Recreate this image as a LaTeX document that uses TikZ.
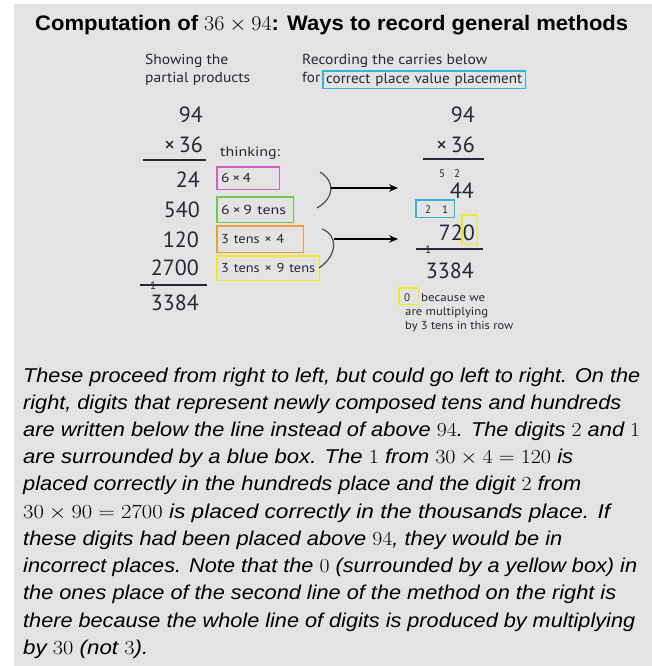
\RequirePackage{fix-cm}
\documentclass[tikz,border=0pt]{standalone}
\usepackage[no-math]{fontspec}
\setmainfont{Liberation Sans}
\newfontfamily\lab{PT Sans}
\usepackage{graphicx}
\usetikzlibrary{arrows.meta}
\definecolor{bgc}{HTML}{E3E3E3}
\definecolor{txt}{HTML}{262636}
\definecolor{cyanc}{HTML}{30B4D8}
\definecolor{pinkc}{HTML}{DA5EC2}
\definecolor{greenc}{HTML}{6CC848}
\definecolor{orangec}{HTML}{F29A40}
\definecolor{yelc}{HTML}{F2EA20}
\definecolor{arcc}{HTML}{4A4A4A}
\newcommand\fw[2]{\resizebox{#1pt}{\height}{#2}}
\begin{document}
\begin{tikzpicture}[x=1pt,y=-1pt,
  dig/.style={font=\lab\fontsize{22}{22}\selectfont, inner sep=0pt, text=txt, anchor=base east},
  hdr/.style={font=\lab\fontsize{14.5}{14.5}\selectfont, inner sep=0pt, text=txt, anchor=base west},
  small/.style={font=\lab\fontsize{13.5}{13.5}\selectfont, inner sep=0pt, text=txt, anchor=base west},
  tiny/.style={font=\lab\fontsize{11}{11}\selectfont, inner sep=0pt, text=txt},
  note/.style={font=\lab\fontsize{11.5}{11.5}\selectfont, inner sep=0pt, text=txt, anchor=base west},
  tbox/.style={font=\lab\fontsize{13}{13}\selectfont, text=txt, inner xsep=4pt, inner ysep=0pt, align=left, anchor=north west},
  slot/.style={inner sep=0pt, anchor=north west},
  frame/.style={line width=1.4pt},
  body/.style={font=\itshape\fontsize{20}{20}\selectfont, inner sep=0pt, text=black, anchor=base west},
  rule/.style={line width=1.2pt, draw=txt},
  arcl/.style={line width=1.2pt, draw=arcc},
  arr/.style={line width=1.1pt, -{Stealth[length=9pt,width=7.5pt]}}]
\useasboundingbox (0,0) rectangle (652,666);
\fill[bgc] (14,4) rectangle (652,666);
% title
\node[font=\bfseries\fontsize{21}{21}\selectfont, inner sep=0pt, anchor=base west] (title) at (35,31)
  {\fw{593}{Computation of $36\times 94$: Ways to record general methods}};
% headers
\node[hdr] (h1) at (145,65) {\fw{83}{Showing the}};
\node[hdr] (h2) at (145,83) {\fw{105}{partial products}};
\node[hdr] (h3) at (302,65) {\fw{185}{Recording the carries below}};
\node[hdr] (h4) at (302,83) {\fw{18}{for}};
\node[tbox, font=\lab\fontsize{14.5}{14.5}\selectfont, inner xsep=3pt, text width=196pt, minimum height=17pt] (h5) at (323,71) {\fw{196}{correct place value placement}};
\draw[frame, draw=cyanc] (h5.north west) rectangle (h5.south east);
% left method
\node[dig] (l1) at (203,122) {94};
\node[dig] (l2) at (203,152) {×\,36};
\coordinate (lr1a) at (143,160); \coordinate (lr1b) at (206,160);
\draw[rule] (lr1a) -- (lr1b);
\node[dig] (l3) at (200,187) {24};
\node[dig] (l4) at (200,217) {540};
\node[dig] (l5) at (199,247) {120};
\node[dig] (l6) at (199,275) {2700};
\coordinate (lr2a) at (140,285); \coordinate (lr2b) at (207,285);
\draw[rule] (lr2a) -- (lr2b);
\node[tiny, anchor=base] (lc) at (153,289) {1};
\node[dig] (l7) at (199,310) {3384};
% thinking
\node[small] (th) at (220,156) {\fw{60}{thinking:}};
\node[tbox, text width=54pt, minimum height=22pt] (b1) at (217,167) {\fw{30}{6\,×\,4}};
\node[tbox, text width=68pt, minimum height=25pt] (b2) at (217,197) {\fw{65}{6\,×\,9 tens}};
\node[tbox, text width=78pt, minimum height=26pt] (b3) at (217,226) {\fw{63}{3 tens × 4}};
\node[tbox, text width=94pt, minimum height=24pt] (b4) at (217,256) {\fw{94}{3 tens × 9 tens}};
\draw[frame, draw=pinkc] (b1.north west) rectangle (b1.south east);
\draw[frame, draw=greenc] (b2.north west) rectangle (b2.south east);
\draw[frame, draw=orangec] (b3.north west) rectangle (b3.south east);
\draw[frame, draw=yelc] (b4.north west) rectangle (b4.south east);
% arcs and arrows
\coordinate (a1s) at (320,172); \coordinate (a1e) at (317,208); \coordinate (a1m) at (331,188);
\draw[arcl] (a1s) .. controls (336,182) and (334,198) .. (a1e);
\coordinate (a2s) at (322,229); \coordinate (a2e) at (319,268); \coordinate (a2m) at (334,239);
\draw[arcl] (a2s) .. controls (338,235) and (338,255) .. (a2e);
\coordinate (t1) at (398,188); \coordinate (t2) at (398,239);
\draw[arr] (a1m) -- (t1);
\draw[arr] (a2m) -- (t2);
% right method
\node[dig] (r1) at (475,122) {94};
\node[dig] (r2) at (475,152) {×\,36};
\coordinate (rr1a) at (423,159); \coordinate (rr1b) at (484,159);
\draw[rule] (rr1a) -- (rr1b);
\node[tiny, anchor=base] (c5) at (442,177) {5};
\node[tiny, anchor=base] (c2) at (457,177) {2};
\node[dig] (r3) at (474,198) {44};
\node[slot, minimum width=38pt, minimum height=17pt] (cb) at (416,200) {};
\draw[frame, draw=cyanc] (cb.north west) rectangle (cb.south east);
\node[tiny, anchor=base] (d2) at (428,213) {2};
\node[tiny, anchor=base] (d1) at (445,213) {1};
\node[dig] (r4) at (475,240) {720};
\node[slot, minimum width=15pt, minimum height=29pt] (yb) at (462,215) {};
\draw[frame, draw=yelc] (yb.north west) rectangle (yb.south east);
\coordinate (rr2a) at (416,249); \coordinate (rr2b) at (483,249);
\draw[rule] (rr2a) -- (rr2b);
\node[tiny, anchor=base] (rc) at (428,253) {1};
\node[dig] (r5) at (474,278) {3384};
% note
\node[slot, minimum width=19pt, minimum height=16pt] (nb) at (399,288) {};
\draw[frame, draw=yelc] (nb.north west) rectangle (nb.south east);
\node[tiny, anchor=base] (n0) at (407,301) {0};
\node[note] (n1) at (421,301) {\fw{64}{because we}};
\node[note] (n2) at (405,315) {\fw{83}{are multiplying}};
\node[note] (n3) at (405,329) {\fw{108}{by 3 tens in this row}};
% body text
\node[body] (p1) at (23,382) {\fw{617}{These proceed from right to left, but could go left to right. On the}};
\node[body] (p2) at (23,409) {\fw{598}{right, digits that represent newly composed tens and hundreds}};
\node[body] (p3) at (23,436) {\fw{617}{are written below the line instead of above $94$. The digits $2$ and $1$}};
\node[body] (p4) at (23,463) {\fw{550}{are surrounded by a blue box. The $1$ from $30\times 4=120$ is}};
\node[body] (p5) at (23,490) {\fw{558}{placed correctly in the hundreds place and the digit $2$ from}};
\node[body] (p6) at (23,518) {\fw{587}{$30\times 90=2700$ is placed correctly in the thousands place. If}};
\node[body] (p7) at (23,545) {\fw{539}{these digits had been placed above $94$, they would be in}};
\node[body] (p8) at (23,572) {\fw{614}{incorrect places. Note that the $0$ (surrounded by a yellow box) in}};
\node[body] (p9) at (23,599) {\fw{593}{the ones place of the second line of the method on the right is}};
\node[body] (p10) at (23,627) {\fw{612}{there because the whole line of digits is produced by multiplying}};
\node[body] (p11) at (23,654) {\fw{125}{by $30$ (not $3$).}};
\end{tikzpicture}
\end{document}
